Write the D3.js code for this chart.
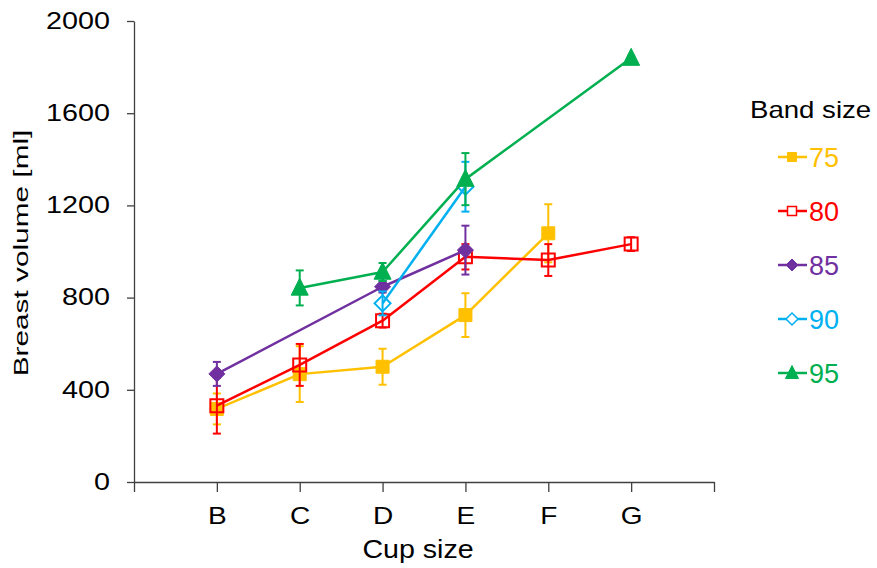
<!DOCTYPE html>
<html>
<head>
<meta charset="utf-8">
<script src="https://cdn.jsdelivr.net/npm/d3@7"></script>
<style>
  html, body { margin: 0; padding: 0; background: #fff; }
  svg text { font-family: "Liberation Sans", Arial, sans-serif; }
</style>
</head>
<body>
<div id="chart"></div>
<script>
// cup sizes along the x axis, band sizes as series
var cups = ["B", "C", "D", "E", "F", "G"];
var bandSizes = ["75", "80", "85", "90", "95"];
var yTicks = [0, 400, 800, 1200, 1600, 2000];

// mean breast volume [ml] per cup size, null = no data
var vol75 = [317, 468, 500, 724, 1079, null];
var vol80 = [331, 508, 700, 977, 963, 1032];
var vol85 = [469, null, 847, 1006, null, null];
var vol90 = [null, null, 775, 1281, null, null];
var vol95 = [null, 842, 911, 1314, null, 1839];

// error bar half widths [ml]
var err75 = [67, 121, 78, 95, 126, null];
var err80 = [121, 91, 30, 55, 69, 30];
var err85 = [52, null, 25, 106, null, null];
var err90 = [null, null, 52, 108, null, null];
var err95 = [null, 76, 39, 113, null, 10];

var colors = ["#FFC000", "#FF0000", "#7030A0", "#00B0F0", "#00B050"];

// custom marker shapes (size = half width)
var sq = { draw: function (c, s) { c.moveTo(-s, -s); c.lineTo(s, -s); c.lineTo(s, s); c.lineTo(-s, s); c.closePath(); } };
var dia = { draw: function (c, s) { c.moveTo(0, -s); c.lineTo(s, 0); c.lineTo(0, s); c.lineTo(-s, 0); c.closePath(); } };
var tri = { draw: function (c, s) { c.moveTo(0, -s * 1.15); c.lineTo(s, s * 0.85); c.lineTo(-s, s * 0.85); c.closePath(); } };

var markers = [
    {type: sq, size: 6.5, legendSize: 4.5, filled: true},
    {type: sq, size: 6.5, legendSize: 4.5, filled: false},
    {type: dia, size: 8, legendSize: 6, filled: true},
    {type: dia, size: 8, legendSize: 6, filled: false},
    {type: tri, size: 8.5, legendSize: 6.5, filled: true}
];

var vols = [vol75, vol80, vol85, vol90, vol95];
var errs = [err75, err80, err85, err90, err95];

var series = bandSizes.map(function (b, k) {
    var pts = [];
    cups.forEach(function (c, i) {
        if (vols[k][i] != null) pts.push({i: i + 1, v: vols[k][i], e: errs[k][i] || 0});
    });
    return {name: b, color: colors[k], marker: markers[k], points: pts};
});

var W = 877, H = 568;
var svg = d3.select("#chart").append("svg")
    .attr("width", W)
    .attr("height", H);

var x = d3.scaleLinear().domain([0, cups.length + 1]).range([134, 714]);
var y = d3.scaleLinear().domain([0, 2000]).range([482, 21]);

var axisColor = "#404040";

// stretch text horizontally (original font is wide)
function widen(sel, k) {
    sel.each(function () {
        var t = d3.select(this);
        var x0 = +t.attr("x") || 0;
        t.attr("x", x0 / k).attr("transform", "scale(" + k + ",1)");
    });
}

var gx = svg.append("g")
    .attr("transform", "translate(0," + y(0) + ")")
    .call(d3.axisBottom(x)
        .tickValues(d3.range(0, cups.length + 2))
        .tickFormat(function (i) { return cups[i - 1] || ""; })
        .tickSize(10)
        .tickSizeOuter(0)
        .tickPadding(16));

var gy = svg.append("g")
    .attr("transform", "translate(" + x(0) + ",0)")
    .call(d3.axisLeft(y)
        .tickValues(yTicks)
        .tickFormat(d3.format("d"))
        .tickSize(7)
        .tickSizeOuter(0)
        .tickPadding(17));

[gx, gy].forEach(function (g) {
    g.select(".domain").attr("stroke", axisColor).attr("stroke-width", 1.3);
    g.selectAll(".tick line").attr("stroke", axisColor).attr("stroke-width", 1.3);
    g.selectAll(".tick text")
        .attr("fill", "#000")
        .style("font-size", "23px");
});
widen(gx.selectAll(".tick text"), 1.22);
widen(gy.selectAll(".tick text"), 1.25);

// axis titles
svg.append("text")
    .attr("transform", "translate(418,558) scale(1.1,1)")
    .attr("text-anchor", "middle")
    .style("font-size", "26px")
    .text("Cup size");

svg.append("text")
    .attr("transform", "translate(28,253) rotate(-90) scale(1.42,1)")
    .attr("text-anchor", "middle")
    .style("font-size", "21px")
    .text("Breast volume [ml]");

var line = d3.line()
    .x(function (d) { return x(d.i); })
    .y(function (d) { return y(d.v); });

var capW = 4;

series.forEach(function (s) {
    var g = svg.append("g");

    var eb = g.selectAll(".err")
        .data(s.points.filter(function (d) { return d.e > 0; }))
        .enter().append("g")
        .attr("stroke", s.color)
        .attr("stroke-width", 2);
    eb.append("line")
        .attr("x1", function (d) { return x(d.i); })
        .attr("x2", function (d) { return x(d.i); })
        .attr("y1", function (d) { return y(d.v - d.e); })
        .attr("y2", function (d) { return y(d.v + d.e); });
    eb.append("line")
        .attr("x1", function (d) { return x(d.i) - capW; })
        .attr("x2", function (d) { return x(d.i) + capW; })
        .attr("y1", function (d) { return y(d.v + d.e); })
        .attr("y2", function (d) { return y(d.v + d.e); });
    eb.append("line")
        .attr("x1", function (d) { return x(d.i) - capW; })
        .attr("x2", function (d) { return x(d.i) + capW; })
        .attr("y1", function (d) { return y(d.v - d.e); })
        .attr("y2", function (d) { return y(d.v - d.e); });

    g.append("path")
        .datum(s.points)
        .attr("fill", "none")
        .attr("stroke", s.color)
        .attr("stroke-width", 2.5)
        .attr("stroke-linejoin", "round")
        .attr("d", line);

    g.selectAll(".mk")
        .data(s.points)
        .enter().append("path")
        .attr("transform", function (d) { return "translate(" + x(d.i) + "," + y(d.v) + ")"; })
        .attr("d", d3.symbol().type(s.marker.type).size(s.marker.size))
        .attr("fill", s.marker.filled ? s.color : "none")
        .attr("stroke", s.color)
        .attr("stroke-width", s.marker.filled ? 1 : 2);
});

// legend
var lg = svg.append("g");
lg.append("text")
    .attr("transform", "translate(750,118) scale(1.2,1)")
    .style("font-size", "23px")
    .text("Band size");

var item = lg.selectAll(".item")
    .data(series)
    .enter().append("g")
    .attr("transform", function (d, i) { return "translate(0," + (157 + i * 54) + ")"; });

item.append("line")
    .attr("x1", 778).attr("x2", 807)
    .attr("stroke", function (d) { return d.color; })
    .attr("stroke-width", 2.5);

item.append("path")
    .attr("transform", "translate(792,0)")
    .attr("d", function (d) { return d3.symbol().type(d.marker.type).size(d.marker.legendSize)(); })
    .attr("fill", function (d) { return d.marker.filled ? d.color : "#fff"; })
    .attr("stroke", function (d) { return d.color; })
    .attr("stroke-width", function (d) { return d.marker.filled ? 1 : 1.5; });

item.append("text")
    .attr("x", 809)
    .attr("dy", "0.36em")
    .attr("fill", function (d) { return d.color; })
    .style("font-size", "27px")
    .text(function (d) { return d.name; });
</script>
</body>
</html>
